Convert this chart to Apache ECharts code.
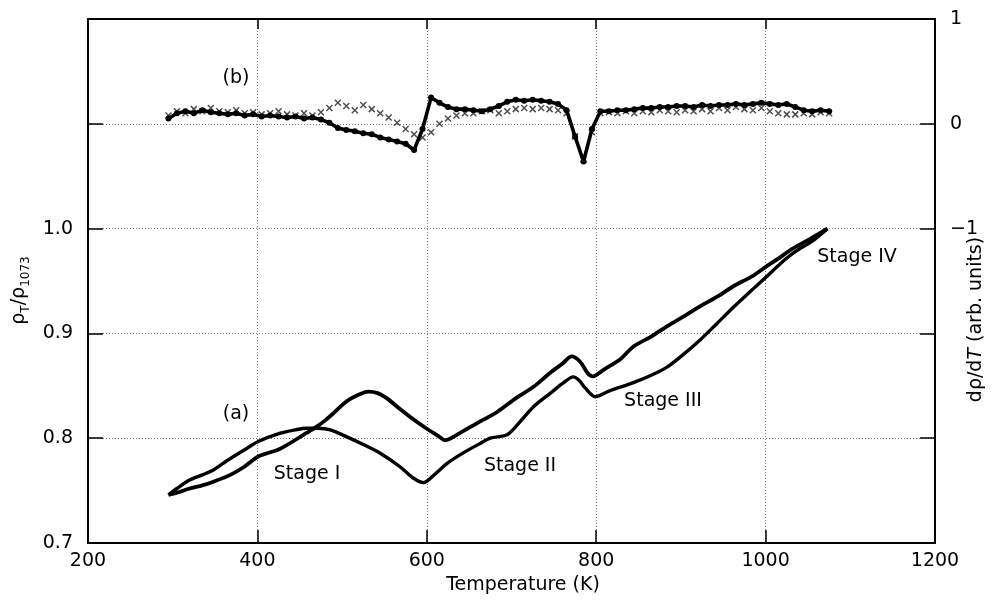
<!DOCTYPE html>
<html>
<head>
<meta charset="utf-8">
<script src="https://cdn.jsdelivr.net/npm/echarts@6/dist/echarts.min.js"></script>
<style>html,body{margin:0;padding:0;background:#fff}#c{width:994px;height:605px}</style>
</head>
<body>
<div id="c"></div>
<script>
// ---- Data ----
// (a) resistivity ratio, curve with the Stage I arch
var tempA1 = [295, 305, 320, 335, 348, 365, 385, 401, 427, 445, 458, 472, 486, 505, 525, 545, 568, 584, 596, 610, 624, 643, 663, 675, 694, 705, 726, 746, 760, 773, 780, 787, 799, 815, 844, 865, 884, 903, 923, 942, 962, 982, 1001, 1018, 1035, 1055, 1073];
var rhoA1  = [0.746, 0.752, 0.760, 0.765, 0.7697, 0.779, 0.789, 0.7968, 0.8048, 0.808, 0.8095, 0.8095, 0.808, 0.8015, 0.794, 0.7857, 0.773, 0.762, 0.7576, 0.766, 0.776, 0.786, 0.795, 0.800, 0.803, 0.811, 0.830, 0.843, 0.852, 0.8585, 0.855, 0.848, 0.8396, 0.845, 0.853, 0.860, 0.868, 0.880, 0.894, 0.909, 0.925, 0.940, 0.954, 0.967, 0.978, 0.988, 1.0];
// (a) resistivity ratio, curve with the bump near 530 K
var tempA2 = [295, 305, 320, 335, 348, 368, 385, 401, 427, 458, 470, 480, 490, 505, 518, 531, 542, 553, 568, 584, 600, 612, 622, 635, 650, 663, 683, 705, 726, 745, 760, 771, 781, 790, 796, 810, 828, 844, 865, 884, 905, 923, 945, 962, 985, 1001, 1018, 1030, 1050, 1073];
var rhoA2  = [0.746, 0.748, 0.752, 0.755, 0.7585, 0.765, 0.773, 0.7825, 0.790, 0.805, 0.811, 0.817, 0.824, 0.835, 0.841, 0.8445, 0.843, 0.838, 0.828, 0.818, 0.809, 0.803, 0.798, 0.803, 0.810, 0.816, 0.825, 0.838, 0.849, 0.862, 0.871, 0.878, 0.873, 0.862, 0.859, 0.866, 0.875, 0.8875, 0.897, 0.907, 0.917, 0.926, 0.936, 0.945, 0.955, 0.964, 0.973, 0.980, 0.989, 1.0];
// (b) derivative, temperatures
var tempB = [295,305,315,325,335,345,355,365,375,385,395,405,415,425,435,445,455,465,475,485,495,505,515,525,535,545,555,565,575,585,595,605,615,625,635,645,655,665,675,685,695,705,715,725,735,745,755,765,775,785,795,805,815,825,835,845,855,865,875,885,895,905,915,925,935,945,955,965,975,985,995,1005,1015,1025,1035,1045,1055,1065,1075];
// (b) derivative, dot series
var dotsB = [0.05,0.10,0.12,0.10,0.13,0.11,0.10,0.09,0.10,0.08,0.09,0.07,0.08,0.07,0.06,0.07,0.05,0.06,0.04,0.01,-0.04,-0.06,-0.07,-0.09,-0.10,-0.13,-0.15,-0.17,-0.19,-0.25,-0.05,0.25,0.20,0.16,0.14,0.14,0.13,0.12,0.14,0.17,0.21,0.23,0.22,0.23,0.22,0.21,0.19,0.13,-0.12,-0.36,-0.05,0.12,0.12,0.13,0.13,0.14,0.15,0.15,0.16,0.16,0.17,0.17,0.16,0.18,0.17,0.18,0.18,0.19,0.18,0.19,0.20,0.19,0.18,0.19,0.16,0.13,0.12,0.13,0.12];
// (b) derivative, cross series
var crossB = [0.08,0.12,0.10,0.14,0.12,0.15,0.12,0.11,0.13,0.10,0.11,0.09,0.10,0.12,0.09,0.08,0.10,0.08,0.11,0.15,0.20,0.17,0.13,0.18,0.14,0.10,0.06,0.01,-0.05,-0.10,-0.13,-0.08,0.00,0.05,0.08,0.10,0.10,0.12,0.13,0.10,0.12,0.14,0.15,0.14,0.15,0.14,0.13,0.10,-0.12,-0.34,-0.08,0.10,0.11,0.10,0.12,0.10,0.12,0.11,0.13,0.12,0.11,0.13,0.12,0.14,0.12,0.15,0.13,0.16,0.14,0.13,0.15,0.12,0.10,0.09,0.09,0.10,0.09,0.11,0.10];
// axis ticks
var xTicks = [200, 400, 600, 800, 1000, 1200];
var leftLabels = ['0.7', '0.8', '0.9', '1.0'];
var rightLabels = {'1': '1', '0': '0', '-1': '\u22121'};

function pairs(xs, ys) { return xs.map(function (x, i) { return [x, ys[i]]; }); }

var FONT = 'DejaVu Sans';
var chart = echarts.init(document.getElementById('c'), null, {renderer: 'canvas'});
var gridLine = {show: true, lineStyle: {color: '#777', width: 1, type: [1, 2]}};

chart.setOption({
  animation: false,
  backgroundColor: '#fff',
  grid: {left: 88, right: 59, top: 19, bottom: 62, containLabel: false, outerBoundsMode: 'none'},
  xAxis: [{
    type: 'value', min: xTicks[0], max: xTicks[xTicks.length - 1], interval: 200,
    position: 'bottom',
    name: 'Temperature (K)', nameLocation: 'middle', nameGap: 24,
    nameTextStyle: {fontFamily: FONT, fontSize: 19, color: '#000', padding: [0, 0, 0, 23]},
    axisLine: {onZero: false, lineStyle: {color: '#000', width: 2}},
    axisTick: {inside: true, length: 13, lineStyle: {color: '#000', width: 1.5}},
    axisLabel: {fontFamily: FONT, fontSize: 19, color: '#000', margin: 9,
      formatter: function (v) { return String(Math.round(v)); }},
    splitLine: gridLine
  }, {
    type: 'value', min: xTicks[0], max: xTicks[xTicks.length - 1], interval: 200,
    position: 'top',
    axisLine: {onZero: false, lineStyle: {color: '#000', width: 2}},
    axisTick: {inside: true, length: 10, lineStyle: {color: '#000', width: 1.5}},
    axisLabel: {show: false},
    splitLine: {show: false}
  }],
  yAxis: [{
    type: 'value', min: 0.7, max: 1.2, interval: 0.1, position: 'left',
    name: '{r|\u03c1}{s|T}{r|/\u03c1}{s|1073}', nameLocation: 'middle', nameGap: 52, nameRotate: 90,
    nameTextStyle: {
      color: '#000', padding: [0, 19, 0, 0],
      rich: {
        r: {fontFamily: FONT, fontSize: 19, lineHeight: 26, color: '#000'},
        s: {fontFamily: FONT, fontSize: 12, color: '#000', verticalAlign: 'bottom'}
      }
    },
    axisLine: {onZero: false, lineStyle: {color: '#000', width: 2}},
    axisTick: {inside: true, length: 15, lineStyle: {color: '#000', width: 1.5}},
    axisLabel: {
      fontFamily: FONT, fontSize: 19, color: '#000', margin: 15,
      formatter: function (v) { var s = v.toFixed(1); return leftLabels.indexOf(s) >= 0 ? s : ''; }
    },
    splitLine: gridLine
  }, {
    type: 'value', min: -4, max: 1, interval: 1, position: 'right',
    name: '{n|d\u03c1/d}{i|T}{n| (arb. units)}', nameLocation: 'middle', nameGap: 32, nameRotate: 90,
    nameMoveOverlap: false,
    nameTextStyle: {
      color: '#000', padding: [0, 77, 0, 0],
      rich: {
        n: {fontFamily: FONT, fontSize: 19, color: '#000'},
        i: {fontFamily: FONT, fontSize: 19, fontStyle: 'italic', color: '#000'}
      }
    },
    axisLine: {onZero: false, lineStyle: {color: '#000', width: 2}},
    axisTick: {inside: true, length: 15, lineStyle: {color: '#000', width: 1.5}},
    axisLabel: {
      fontFamily: FONT, fontSize: 19, color: '#000', margin: 15,
      formatter: function (v) { var k = String(Math.round(v)); return rightLabels[k] || ''; }
    },
    splitLine: {show: false}
  }],
  series: [{
    type: 'line', name: '(a) curve 1', xAxisIndex: 0, yAxisIndex: 0,
    data: pairs(tempA1, rhoA1), showSymbol: false, smooth: 0.3,
    lineStyle: {color: '#000', width: 3.4}
  }, {
    type: 'line', name: '(a) curve 2', xAxisIndex: 0, yAxisIndex: 0,
    data: pairs(tempA2, rhoA2), showSymbol: false, smooth: 0.3,
    lineStyle: {color: '#000', width: 3.8}
  }, {
    type: 'line', name: '(b) dots', xAxisIndex: 0, yAxisIndex: 1,
    data: pairs(tempB, dotsB), showSymbol: true, symbol: 'circle', symbolSize: 6,
    itemStyle: {color: '#000'},
    lineStyle: {color: '#000', width: 3.6}
  }, {
    type: 'scatter', name: '(b) crosses', xAxisIndex: 0, yAxisIndex: 1,
    data: pairs(tempB, crossB),
    symbol: 'path://M0,0L10,10M10,0L0,10', symbolSize: 6,
    itemStyle: {color: 'transparent', borderColor: '#222', borderWidth: 1.5}
  }],
  graphic: [
    {type: 'text', x: 236, y: 78, style: {text: '(b)', font: '19px "DejaVu Sans"', fill: '#000', align: 'center', verticalAlign: 'middle'}},
    {type: 'text', x: 236, y: 414, style: {text: '(a)', font: '19px "DejaVu Sans"', fill: '#000', align: 'center', verticalAlign: 'middle'}},
    {type: 'text', x: 307, y: 474, style: {text: 'Stage I', font: '19px "DejaVu Sans"', fill: '#000', align: 'center', verticalAlign: 'middle'}},
    {type: 'text', x: 520, y: 466, style: {text: 'Stage II', font: '19px "DejaVu Sans"', fill: '#000', align: 'center', verticalAlign: 'middle'}},
    {type: 'text', x: 663, y: 401, style: {text: 'Stage III', font: '19px "DejaVu Sans"', fill: '#000', align: 'center', verticalAlign: 'middle'}},
    {type: 'text', x: 857, y: 257, style: {text: 'Stage IV', font: '19px "DejaVu Sans"', fill: '#000', align: 'center', verticalAlign: 'middle'}}
  ]
});
</script>
</body>
</html>
